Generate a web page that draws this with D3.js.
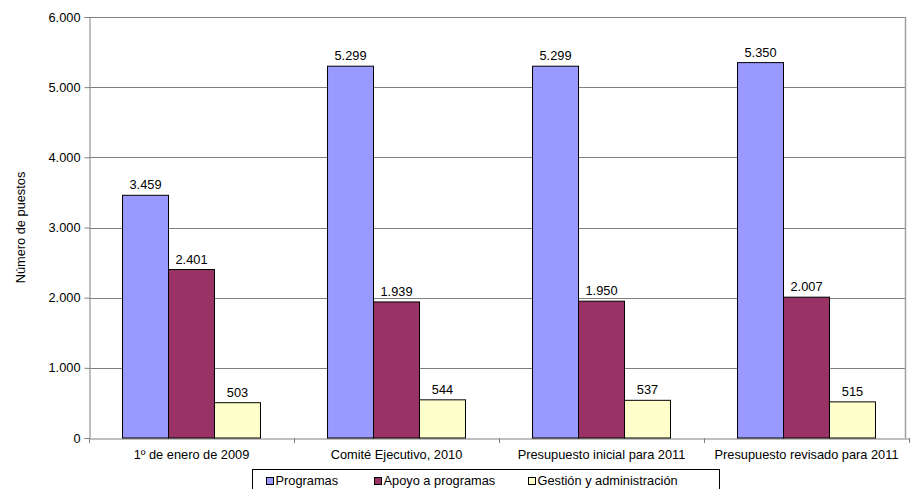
<!DOCTYPE html>
<html>
<head>
<meta charset="utf-8">
<script src="https://cdn.jsdelivr.net/npm/d3@7"></script>
<style>
  body { margin: 0; background: #fff; }
  text { font-family: "Liberation Sans", Arial, sans-serif; fill: #000; }
</style>
</head>
<body>
<div id="chart"></div>
<script>
const categories = ["1º de enero de 2009", "Comité Ejecutivo, 2010", "Presupuesto inicial para 2011", "Presupuesto revisado para 2011"];
const seriesNames = ["Programas", "Apoyo a programas", "Gestión y administración"];
const programas = [3459, 5299, 5299, 5350];
const apoyo = [2401, 1939, 1950, 2007];
const gestion = [503, 544, 537, 515];
const yTicks = [0, 1000, 2000, 3000, 4000, 5000, 6000];
const colors = ["#9999ff", "#993366", "#ffffcc"];

const locale = d3.formatLocale({ decimal: ",", thousands: ".", grouping: [3], currency: ["", "€"] });
const fmt = locale.format(",d");
const fs = "12.8px";

const W = 912, H = 489;
const margin = { top: 17, right: 3, bottom: 51, left: 89 };
const width = W - margin.left - margin.right;
const height = H - margin.top - margin.bottom;
const plotRight = width - 4;

const svg = d3.select("#chart").append("svg").attr("width", W).attr("height", H);
const g = svg.append("g").attr("transform", `translate(${margin.left},${margin.top})`);

const x = d3.scaleBand().domain(categories).range([0, width]).paddingInner(0).paddingOuter(0);
const x1 = d3.scaleBand().domain(seriesNames).range([x.bandwidth() * 0.1635, x.bandwidth() * 0.8365]);
const y = d3.scaleLinear().domain([0, 6000]).range([height, 0]);

// líneas de cuadrícula
g.selectAll("line.grid").data(yTicks.slice(1)).enter().append("line")
  .attr("x1", 0).attr("x2", plotRight)
  .attr("y1", d => Math.round(y(d)) + 0.5).attr("y2", d => Math.round(y(d)) + 0.5)
  .attr("stroke", "#808080").attr("stroke-width", 1);
// borde derecho del área
g.append("line")
  .attr("x1", plotRight + 0.5).attr("x2", plotRight + 0.5)
  .attr("y1", y(6000)).attr("y2", height)
  .attr("stroke", "#a0a0a0").attr("stroke-width", 1.5);

// eje y
const yAxis = g.append("g").attr("transform", "translate(0.5,0)")
  .call(d3.axisLeft(y).tickValues(yTicks).tickFormat(fmt).tickSize(5).tickPadding(4));
yAxis.select(".domain").attr("stroke", "#808080");
yAxis.selectAll(".tick line").attr("stroke", "#808080");
yAxis.selectAll("text").style("font-size", fs);

// eje x
const xAxis = g.append("g").attr("transform", `translate(0,${height + 0.5})`)
  .call(d3.axisBottom(x).tickSize(0).tickPadding(11));
xAxis.select(".domain").attr("stroke", "#808080");
xAxis.selectAll("text").style("font-size", fs);
g.selectAll("line.xtick").data(d3.range(categories.length + 1)).enter().append("line")
  .attr("x1", i => Math.round(i * x.step()) + 0.5).attr("x2", i => Math.round(i * x.step()) + 0.5)
  .attr("y1", height).attr("y2", height + 5)
  .attr("stroke", "#808080");

const series = [programas, apoyo, gestion];
const data = [];
categories.forEach((c, i) => {
  series.forEach((s, j) => data.push({ cat: c, name: seriesNames[j], value: s[i], color: colors[j] }));
});

g.selectAll("rect.bar").data(data).enter().append("rect")
  .attr("x", d => x(d.cat) + x1(d.name))
  .attr("y", d => y(d.value))
  .attr("width", x1.bandwidth())
  .attr("height", d => height - y(d.value))
  .attr("fill", d => d.color)
  .attr("stroke", "#000").attr("stroke-width", 1);

g.selectAll("text.val").data(data).enter().append("text")
  .attr("x", d => x(d.cat) + x1(d.name) + x1.bandwidth() / 2)
  .attr("y", d => y(d.value) - 6)
  .attr("text-anchor", "middle")
  .style("font-size", fs)
  .text(d => fmt(d.value));

// título eje y
svg.append("text")
  .attr("transform", `translate(25,${margin.top + height / 2}) rotate(-90)`)
  .attr("text-anchor", "middle")
  .style("font-size", fs)
  .text("Número de puestos");

// leyenda
const legend = svg.append("g").attr("transform", "translate(252.5,469.5)");
legend.append("rect").attr("width", 467).attr("height", 30)
  .attr("fill", "#fff").attr("stroke", "#000");
const legX = [14, 122, 276];
seriesNames.forEach((n, i) => {
  legend.append("rect").attr("x", legX[i]).attr("y", 8).attr("width", 7).attr("height", 7)
    .attr("fill", colors[i]).attr("stroke", "#000");
  legend.append("text").attr("x", legX[i] + 9).attr("y", 15.5)
    .style("font-size", fs).text(n);
});
</script>
</body>
</html>
